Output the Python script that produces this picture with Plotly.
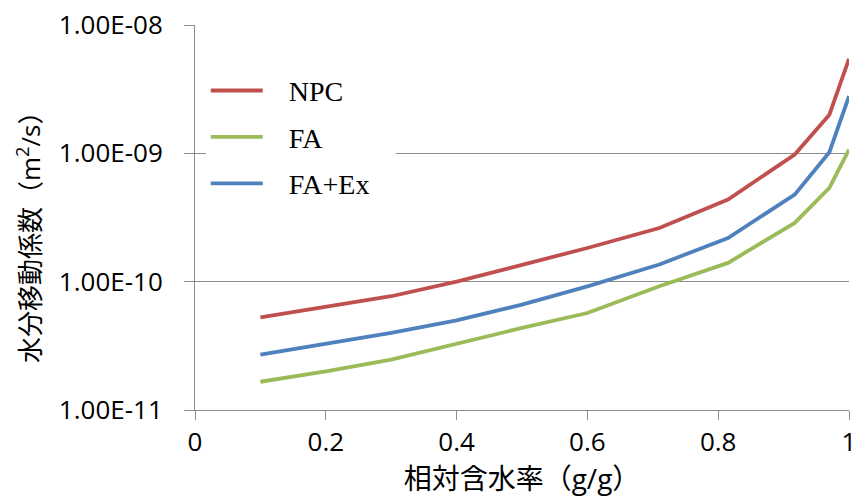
import plotly.graph_objects as go

# Data
x_vals = [0.1, 0.2, 0.3, 0.4, 0.5, 0.6, 0.71, 0.815, 0.917, 0.97, 1.0]
npc = [5.28e-11, 6.43e-11, 7.7e-11, 1.0e-10, 1.36e-10, 1.83e-10, 2.62e-10, 4.36e-10, 9.8e-10, 2.0e-9, 5.45e-9]
fa = [1.66e-11, 2.0e-11, 2.47e-11, 3.3e-11, 4.36e-11, 5.7e-11, 9.2e-11, 1.40e-10, 2.87e-10, 5.38e-10, 1.07e-9]
fa_ex = [2.70e-11, 3.27e-11, 3.99e-11, 5.0e-11, 6.63e-11, 9.2e-11, 1.36e-10, 2.19e-10, 4.77e-10, 1.02e-9, 2.79e-9]

series_names = ["NPC", "FA", "FA+Ex"]
series_values = [npc, fa, fa_ex]
series_colors = ["#C0504D", "#9BBB59", "#4F81BD"]

y_tickvals = [1e-11, 1e-10, 1e-9, 1e-8]
y_ticktext = ["1.00E-11", "1.00E-10", "1.00E-09", "1.00E-08"]
x_tickvals = [0, 0.2, 0.4, 0.6, 0.8, 1.0]
x_ticktext = ["0", "0.2", "0.4", "0.6", "0.8", "1"]

x_title = "相対含水率（g/g）"
y_title = "水分移動係数（m<sup>2</sup>/s）"

label_font = "Open Sans, Noto Sans CJK JP, sans-serif"
legend_pad = "\u00a0\u00a0\u00a0"      # gap between legend line and its label
legend_tail = "\u00a0\u00a0\u00a0"     # extra white box width on the right
y_title_tail = "\u3000\u00a0\u00a0\u200b"  # nudges the rotated title downward

fig = go.Figure()
for i, (name, vals, col) in enumerate(zip(series_names, series_values, series_colors)):
    fig.add_trace(go.Scatter(
        x=x_vals, y=vals, mode="lines", name=legend_pad + name + legend_tail,
        line=dict(color=col, width=3.8),
        legendgroup=f"g{i}",
    ))

grid_col = "#8C8C8C"
fig.update_layout(
    width=855, height=497,
    margin=dict(l=195, r=6, t=25, b=87),
    plot_bgcolor="white", paper_bgcolor="white",
    font=dict(family=label_font, size=26, color="#000000"),
    showlegend=True,
    legend=dict(
        x=0.0165, y=0.894, xanchor="left", yanchor="top",
        bgcolor="white", borderwidth=0,
        font=dict(family="Liberation Serif, Times New Roman, serif", size=28, color="#000000"),
        tracegroupgap=7,
        itemwidth=52,
    ),
    xaxis=dict(
        range=[0, 1], tickvals=x_tickvals, ticktext=x_ticktext,
        showgrid=False, showline=True, linecolor=grid_col, linewidth=1,
        ticks="outside", ticklen=9, tickcolor=grid_col,
        zeroline=False, automargin=False,
        tickfont=dict(size=26),
        ticklabeloverflow="allow",
        title=dict(text=x_title, font=dict(size=28), standoff=17),
    ),
    yaxis=dict(
        type="log", range=[-11, -8],
        tickvals=y_tickvals, ticktext=y_ticktext,
        showgrid=True, gridcolor=grid_col, gridwidth=1,
        showline=True, linecolor=grid_col, linewidth=1,
        ticks="outside", ticklen=10, tickcolor=grid_col,
        automargin=False,
        tickfont=dict(size=26),
        ticklabelstandoff=16,
        title=dict(text=y_title + y_title_tail, font=dict(size=26), standoff=10),
    ),
)

fig.write_html("out.html")
